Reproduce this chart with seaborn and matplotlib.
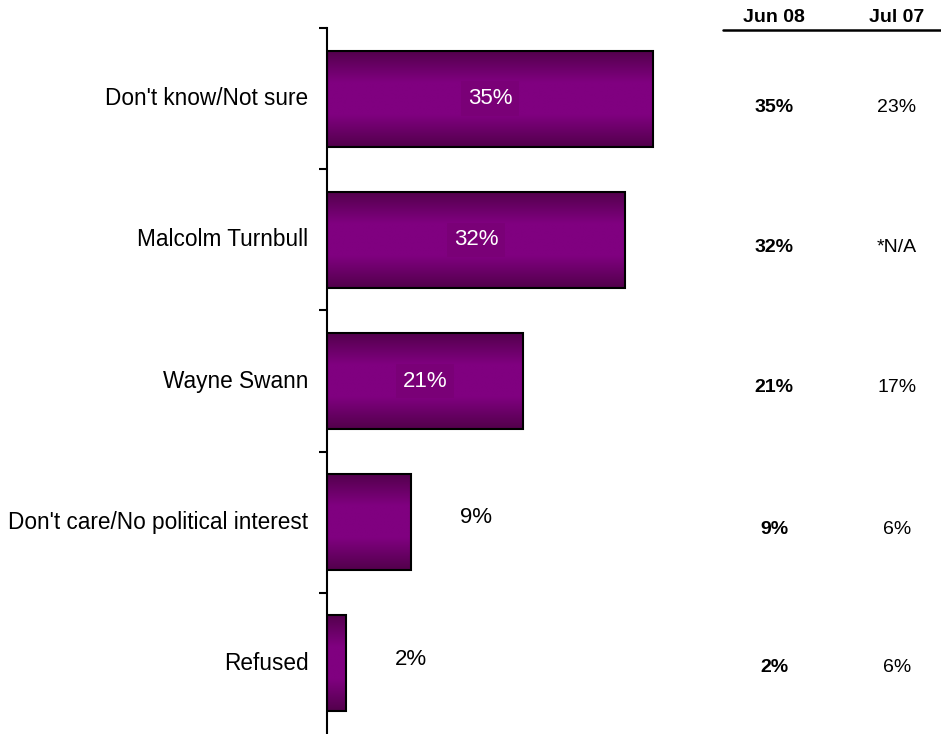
import numpy as np
import pandas as pd
import matplotlib
matplotlib.use("Agg")
import matplotlib.pyplot as plt
import seaborn as sns
from matplotlib.colors import LinearSegmentedColormap

categories = ["Don't know/Not sure", "Malcolm Turnbull", "Wayne Swann",
              "Don't care/No political interest", "Refused"]
jun08 = [35, 32, 21, 9, 2]
jul07_labels = ["23%", "*N/A", "17%", "6%", "6%"]
col_headers = ["Jun 08", "Jul 07"]

sns.set_theme(style="white")
plt.rcParams["font.family"] = ["Liberation Sans", "DejaVu Sans"]
plt.rcParams["text.color"] = "black"

df = pd.DataFrame({"answer": categories, "pct": jun08})

fig = plt.figure(figsize=(9.41, 7.34), dpi=100)
ax = fig.add_axes([327 / 941, 0.0, (700 - 327) / 941, 1 - 28 / 734])

sns.barplot(data=df, y="answer", x="pct", orient="h", color="#800080",
            width=0.68, edgecolor="black", linewidth=1.5, ax=ax, zorder=2)

XMAX = (700 - 327) / 9.31

# vertical purple gradient: dark edges, bright centre
grad_cmap = LinearSegmentedColormap.from_list(
    "purp", ["#52004b", "#800080", "#800080", "#52004b"])
grad = np.linspace(0, 1, 256).reshape(-1, 1)
for p in ax.patches:
    x0, y0 = p.get_x(), p.get_y()
    w, h = p.get_width(), p.get_height()
    im = ax.imshow(grad, cmap=grad_cmap, aspect="auto",
                   extent=[x0, x0 + w, y0 + h, y0], zorder=2.5,
                   interpolation="bilinear")
    im.set_clip_path(p)
    p.set_facecolor("none")
    p.set_zorder(3)
ax.set_xlim(0, XMAX)
ax.set_ylim(len(categories) - 0.5, -0.5)

# value labels
for i, v in enumerate(jun08):
    if v >= 15:
        ax.text(v / 2, i, f"{v}%", ha="center", va="center", color="white",
                fontsize=16, zorder=5,
                bbox=dict(boxstyle="square,pad=0.3", fc="#7a0077", ec="none"))
    else:
        ax.text(v + 7.0, i - 0.03, f"{v}%", ha="center", va="center",
                color="black", fontsize=16, zorder=5)

# axes styling
for s in ["top", "right", "bottom"]:
    ax.spines[s].set_visible(False)
ax.spines["left"].set_color("black")
ax.spines["left"].set_linewidth(1.5)
ax.set_xticks([])
ax.set_yticks([])
ax.set_xlabel("")
ax.set_ylabel("")
ax.set_yticks(np.arange(-0.5, len(categories) - 0.5, 1.0), minor=True)
ax.tick_params(axis="y", which="minor", left=True, length=6, width=1.5,
               color="black", direction="out")

for i, c in enumerate(categories):
    ax.text(-2.0, i, c, ha="right", va="center", fontsize=16.3, color="black")

# comparison table on the right
fig.text(774 / 941, 1 - 18 / 734, col_headers[0], ha="center", va="center",
         fontsize=14, fontweight="bold", color="black")
fig.text(897 / 941, 1 - 18 / 734, col_headers[1], ha="center", va="center",
         fontsize=14, fontweight="bold", color="black")
fig.add_artist(plt.Line2D([723 / 941, 941 / 941], [1 - 30 / 734, 1 - 30 / 734],
                          color="black", linewidth=1.8))
row_y = [108, 248, 388, 530, 668]
for y, v, j in zip(row_y, jun08, jul07_labels):
    fig.text(774 / 941, 1 - y / 734, f"{v}%", ha="center", va="center",
             fontsize=14, fontweight="bold", color="black")
    fig.text(897 / 941, 1 - y / 734, j, ha="center", va="center",
             fontsize=14, color="black")

fig.savefig("out.png", dpi=100, facecolor="white")
